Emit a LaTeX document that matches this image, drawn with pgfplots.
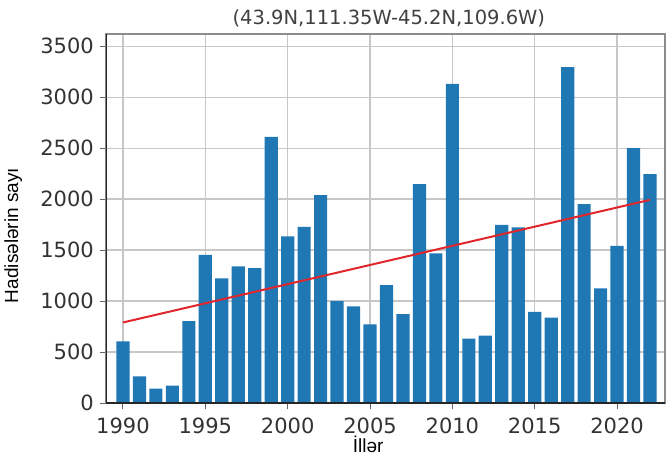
\documentclass[border=0pt]{standalone}
\usepackage{pgfplots}
\pgfplotsset{compat=1.18}
\usepackage{fontspec}
\setmainfont{Liberation Sans}
\newfontfamily\dejavu{DejaVu Sans}
\definecolor{barblue}{HTML}{1F77B4}
\definecolor{trendred}{HTML}{E0262B}

\begin{document}
\begin{tikzpicture}
% page = 667 x 469 px, axis lower left at pixel (106,403)
\useasboundingbox (-106pt,-66pt) rectangle (561pt,403pt);
\begin{axis}[
    at={(0pt,0pt)}, anchor=south west,
    scale only axis, width=559pt, height=369pt,
    xmin=1988.97, xmax=2022.91,
    ymin=0, ymax=3620,
    xtick={1990,1995,...,2020},
    ytick={0,500,...,3500},
    xtick pos=bottom, ytick pos=left,
    tick align=outside, major tick length=6pt,
    tick style={black!60, line width=1pt},
    grid=major,
    grid style={color=black!22, line width=1.3pt},
    axis line style={black!45, line width=1.2pt},
    ticklabel style={font=\dejavu\fontsize{21}{21}\selectfont, text=black!80, inner sep=0pt},
    xticklabel style={yshift=-9pt},
    yticklabel style={xshift=-6pt},
    /pgf/number format/assume math mode=true,
    /pgf/number format/1000 sep={},
    title={(43.9N,111.35W-45.2N,109.6W)},
    title style={font=\dejavu\fontsize{19.5}{19.5}\selectfont, text=black!75,
        at={(axis description cs:0.506,1)}, anchor=base, yshift=3pt, inner sep=0pt},
    xlabel={İllər},
    xlabel style={font=\fontsize{19}{19}\selectfont,
        at={(axis description cs:0.469,0)}, anchor=base, yshift=-49pt, inner sep=0pt},
    ylabel={Hadisələrin sayı},
    ylabel style={font=\fontsize{19}{19}\selectfont,
        at={(axis description cs:-0.166,0.454)}, anchor=center, inner sep=0pt},
]

\addplot[ybar, bar width=0.8, fill=barblue, draw=none]
    coordinates {
    (1990,605)(1991,261)(1992,140)(1993,170)(1994,804)
    (1995,1454)(1996,1222)(1997,1340)(1998,1324)(1999,2611)
    (2000,1634)(2001,1729)(2002,2039)(2003,1000)(2004,948)
    (2005,771)(2006,1157)(2007,873)(2008,2147)(2009,1467)
    (2010,3131)(2011,631)(2012,660)(2013,1748)(2014,1722)
    (2015,895)(2016,837)(2017,3294)(2018,1951)(2019,1124)
    (2020,1542)(2021,2500)(2022,2245)
    };

% linear trend
\addplot[trendred, line width=2pt]
    coordinates {(1990,790)(2022,1993)};

% darker left and bottom spines
\draw[black!85, line width=1.3pt] (rel axis cs:0,1) -- (rel axis cs:0,0) -- (rel axis cs:1,0);

\end{axis}
\end{tikzpicture}
\end{document}
